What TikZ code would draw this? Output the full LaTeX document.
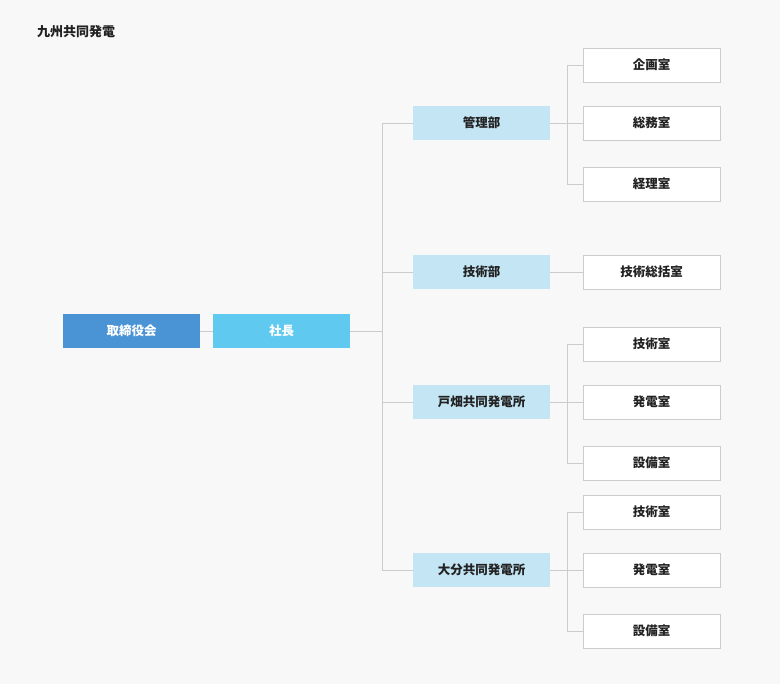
\documentclass[tikz,border=0pt]{standalone}
\usepackage{fontspec}
\setmainfont{Noto Sans CJK JP}
\definecolor{bgcol}{HTML}{F8F8F8}
\definecolor{boardcol}{HTML}{4A94D6}
\definecolor{prescol}{HTML}{5FC9F0}
\definecolor{deptcol}{HTML}{C4E5F4}
\definecolor{linecol}{HTML}{CCCCCC}
\definecolor{textcol}{HTML}{222222}
\tikzset{
  box/.style={rectangle,minimum width=137pt,minimum height=34pt,inner sep=0pt,font=\fontsize{12.5}{14}\selectfont\bfseries},
  topbox/.style={box,text=white},
  deptbox/.style={box,fill=deptcol,text=textcol},
  roombox/.style={box,fill=white,draw=linecol,text=textcol},
  conn/.style={draw=linecol,line width=0.8pt}
}
\begin{document}
\begin{tikzpicture}[x=1pt,y=-1pt]
\fill[bgcol] (0,0) rectangle (780,684);
\useasboundingbox (0,0) rectangle (780,684);
\node[anchor=west,inner sep=0pt,text=textcol,font=\fontsize{13}{15}\selectfont\bfseries] (title) at (37,32) {九州共同発電};

\node[topbox,fill=boardcol] (board) at (131.5,331) {取締役会};
\node[topbox,fill=prescol] (pres) at (281.5,331) {社長};
\draw[conn] (board) -- (pres);

% departments
\node[deptbox] (kanri) at (481.5,123) {管理部};
\node[deptbox] (gijutsu) at (481.5,272) {技術部};
\node[deptbox] (tobata) at (481.5,402) {戸畑共同発電所};
\node[deptbox] (oita) at (481.5,570) {大分共同発電所};
\coordinate (trunk) at (382,331);
\draw[conn] (pres) -- (trunk);
\draw[conn] (382,123) -- (382,570);
\foreach \d in {kanri,gijutsu,tobata,oita}
  \draw[conn] (\d.west) -- (382,0 |- \d.west);

% rooms
\node[roombox] (kikaku) at (651.5,65) {企画室};
\node[roombox] (somu) at (651.5,123) {総務室};
\node[roombox] (keiri) at (651.5,184) {経理室};
\node[roombox] (sokatsu) at (651.5,272) {技術総括室};
\node[roombox] (tgijutsu) at (651.5,344) {技術室};
\node[roombox] (thatsuden) at (651.5,402) {発電室};
\node[roombox] (tsetsubi) at (651.5,463) {設備室};
\node[roombox] (ogijutsu) at (651.5,512) {技術室};
\node[roombox] (ohatsuden) at (651.5,570) {発電室};
\node[roombox] (osetsubi) at (651.5,631) {設備室};

\draw[conn] (gijutsu) -- (sokatsu);
\foreach \p/\a/\b/\c in {kanri/kikaku/somu/keiri,tobata/tgijutsu/thatsuden/tsetsubi,oita/ogijutsu/ohatsuden/osetsubi}{
  \draw[conn] (\p.east) -- (567,0 |- \p.east);
  \draw[conn] (567,0 |- \a.west) -- (567,0 |- \c.west);
  \foreach \r in {\a,\b,\c}
    \draw[conn] (567,0 |- \r.west) -- (\r.west);
}
\end{tikzpicture}
\end{document}
